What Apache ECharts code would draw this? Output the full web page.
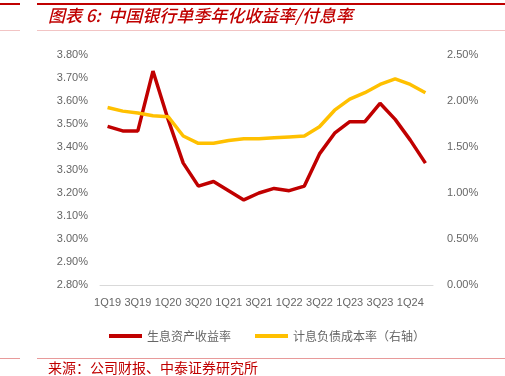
<!DOCTYPE html>
<html>
<head>
<meta charset="utf-8">
<script src="https://cdn.jsdelivr.net/npm/echarts@6/dist/echarts.min.js"></script>
<style>
  html, body { margin: 0; padding: 0; background: #fff; }
  #chart { width: 505px; height: 376px; }
</style>
</head>
<body>
<div id="chart"></div>
<script>
const quarters = [
  '1Q19', '2Q19', '3Q19', '4Q19', '1Q20', '2Q20', '3Q20', '4Q20',
  '1Q21', '2Q21', '3Q21', '4Q21', '1Q22', '2Q22', '3Q22', '4Q22',
  '1Q23', '2Q23', '3Q23', '4Q23', '1Q24', '2Q24'
];
// 生息资产收益率 (left axis, %)
const assetYield = [
  3.49, 3.47, 3.47, 3.73, 3.52, 3.33, 3.23, 3.25,
  3.21, 3.17, 3.20, 3.22, 3.21, 3.23, 3.37, 3.46,
  3.51, 3.51, 3.59, 3.52, 3.43, 3.33
];
// 计息负债成本率 (right axis, %)
const liabilityCost = [
  1.93, 1.89, 1.87, 1.84, 1.83, 1.62, 1.54, 1.54,
  1.57, 1.59, 1.59, 1.60, 1.61, 1.62, 1.72, 1.90,
  2.02, 2.09, 2.18, 2.24, 2.18, 2.09
];
const seriesNames = ['生息资产收益率', '计息负债成本率（右轴）'];

const chart = echarts.init(document.getElementById('chart'));

const axisText = { color: '#666666', fontSize: 11, fontFamily: 'Liberation Sans, Arial, sans-serif' };

const option = {
  animation: false,
  backgroundColor: '#fff',
  grid: { left: 100, right: 72, top: 55, bottom: 91 },
  legend: {
    left: 104,
    top: 325,
    itemWidth: 33,
    itemHeight: 4,
    itemGap: 24,
    icon: 'rect',
    textStyle: { color: '#666666', fontSize: 12, fontFamily: 'Noto Sans CJK SC' },
    data: seriesNames
  },
  xAxis: {
    type: 'category',
    data: quarters,
    boundaryGap: true,
    axisLine: { lineStyle: { color: '#d9d9d9', width: 1 } },
    axisTick: { show: false },
    axisLabel: Object.assign({ interval: 1, margin: 12 }, axisText)
  },
  yAxis: [
    {
      type: 'value',
      min: 2.8,
      max: 3.8,
      interval: 0.1,
      splitLine: { show: false },
      axisLine: { show: false },
      axisTick: { show: false },
      axisLabel: Object.assign({ margin: 12, formatter: v => v.toFixed(2) + '%' }, axisText)
    },
    {
      type: 'value',
      min: 0,
      max: 2.5,
      interval: 0.5,
      splitLine: { show: false },
      axisLine: { show: false },
      axisTick: { show: false },
      axisLabel: Object.assign({ margin: 14, formatter: v => v.toFixed(2) + '%' }, axisText)
    }
  ],
  series: [
    {
      name: seriesNames[0],
      type: 'line',
      yAxisIndex: 0,
      data: assetYield,
      symbol: 'none',
      lineStyle: { color: '#c00000', width: 3.5 },
      itemStyle: { color: '#c00000' }
    },
    {
      name: seriesNames[1],
      type: 'line',
      yAxisIndex: 1,
      data: liabilityCost,
      symbol: 'none',
      lineStyle: { color: '#ffc000', width: 3.5 },
      itemStyle: { color: '#ffc000' }
    }
  ],
  graphic: [
    // header rules
    { type: 'rect', shape: { x: 0, y: 3, width: 20, height: 2 }, style: { fill: '#c00000' } },
    { type: 'rect', shape: { x: 37, y: 3, width: 468, height: 2 }, style: { fill: '#c00000' } },
    { type: 'rect', shape: { x: 0, y: 30, width: 20, height: 1 }, style: { fill: '#f2c4c4' } },
    { type: 'rect', shape: { x: 37, y: 30, width: 468, height: 1 }, style: { fill: '#f2c4c4' } },
    {
      type: 'text',
      left: 48,
      top: 7,
      style: {
        text: '图表 6:  中国银行单季年化收益率/付息率',
        fill: '#c00000',
        font: 'italic 500 17px "Noto Sans CJK SC"'
      }
    },
    // footer
    { type: 'rect', shape: { x: 0, y: 358, width: 20, height: 1 }, style: { fill: '#e89a9a' } },
    { type: 'rect', shape: { x: 37, y: 358, width: 468, height: 1 }, style: { fill: '#e89a9a' } },
    {
      type: 'text',
      left: 48,
      top: 361,
      style: {
        text: '来源：公司财报、中泰证券研究所',
        fill: '#c00000',
        font: '14px "Noto Sans CJK SC"'
      }
    }
  ]
};

chart.setOption(option);
</script>
</body>
</html>
